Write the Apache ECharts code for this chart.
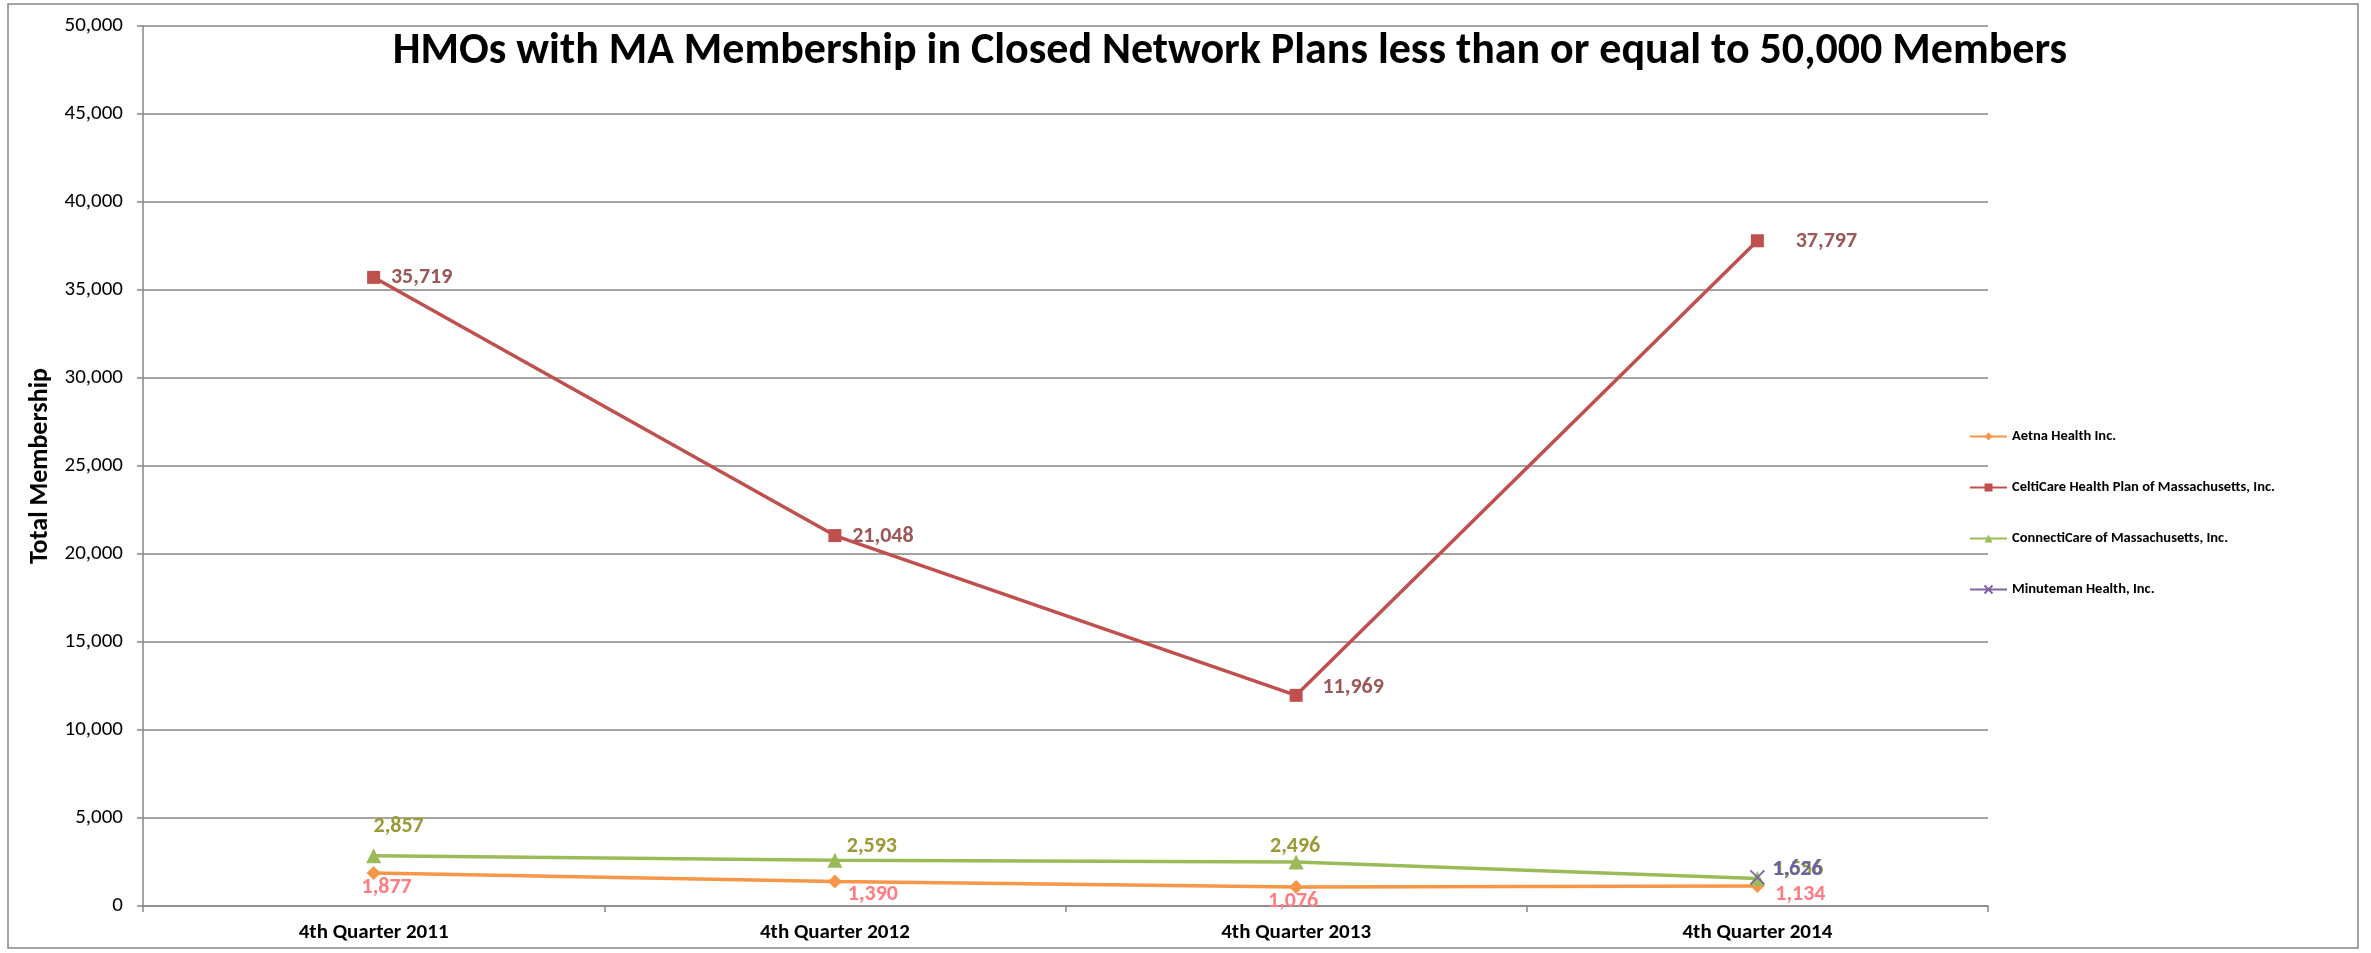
<!DOCTYPE html>
<html>
<head>
<meta charset="utf-8">
<script src="https://cdn.jsdelivr.net/npm/echarts@6/dist/echarts.min.js"></script>
<style>
html,body{margin:0;padding:0;background:#fff;}
#chart{width:2371px;height:953px;}
</style>
</head>
<body>
<div id="chart"></div>
<script>
const categories = ['4th Quarter 2011', '4th Quarter 2012', '4th Quarter 2013', '4th Quarter 2014'];
const seriesNames = ['Aetna Health Inc.', 'CeltiCare Health Plan of Massachusetts, Inc.', 'ConnectiCare of Massachusetts, Inc.', 'Minuteman Health, Inc.'];
const aetna = [1877, 1390, 1076, 1134];
const celticare = [35719, 21048, 11969, 37797];
const connecticare = [2857, 2593, 2496, 1556];
const minuteman = [null, null, null, 1626];
const yTicks = {min: 0, max: 50000, interval: 5000};

const FONT = 'Carlito, Calibri, "Liberation Sans", Arial, sans-serif';
const fmt = v => Number(v).toLocaleString('en-US');

// label center offsets relative to each marker (layout only)
const labelOffsets = [
  [[13, 15], [38, 13], [-3, 14], [43, 8]],
  [[48, 0], [48, 1], [57, -8], [69, 1]],
  [[25, -29], [37, -14], [-1, -16], [41, -9]],
  [null, null, null, [40, -8]]
];
const labelColors = ['#FF7C80', '#9C5757', '#9A9A36', '#6A62A4'];

function buildData(values, si) {
  return values.map((v, i) => {
    if (v === null) return null;
    const off = labelOffsets[si][i] || [0, 0];
    return {value: v, label: {show: true, position: 'inside', offset: off}};
  });
}

const lineColors = ['#F79646', '#C0504D', '#9BBB59', '#8064A2'];
const symbols = ['diamond', 'rect', 'triangle', 'path://M0,0L10,10M10,0L0,10'];
const symbolSizes = [14, 13, 15, 14];
const allValues = [aetna, celticare, connecticare, minuteman];

const series = allValues.map((vals, si) => ({
  name: seriesNames[si],
  type: 'line',
  data: buildData(vals, si),
  symbol: symbols[si],
  symbolSize: symbolSizes[si],
  showAllSymbol: true,
  lineStyle: {width: 3.5, color: lineColors[si]},
  itemStyle: si === 3
    ? {color: 'transparent', borderColor: lineColors[si], borderWidth: 1.8}
    : {color: lineColors[si], borderWidth: 0},
  label: {
    show: true,
    color: labelColors[si],
    fontFamily: FONT,
    fontWeight: 'bold',
    fontSize: 22,
    formatter: p => fmt(p.value)
  },
  emphasis: {disabled: true},
  animation: false
}));

const chart = echarts.init(document.getElementById('chart'), null, {renderer: 'canvas'});
chart.setOption({
  backgroundColor: '#ffffff',
  animation: false,
  title: {
    text: 'HMOs with MA Membership in Closed Network Plans less than or equal to 50,000 Members',
    left: 1225,
    textAlign: 'center',
    top: 25,
    textStyle: {fontFamily: FONT, fontWeight: 'bold', fontSize: 44, color: '#000'}
  },
  graphic: [{
    type: 'rect',
    shape: {x: 8, y: 4, width: 2350, height: 944},
    style: {fill: 'none', stroke: '#868686', lineWidth: 1.5},
    silent: true, z: -1
  }],
  legend: {
    orient: 'vertical',
    left: 1964,
    top: 424,
    itemWidth: 37,
    itemHeight: 10,
    itemGap: 36,
    data: seriesNames,
    textStyle: {fontFamily: FONT, fontWeight: 'bold', fontSize: 14.5, color: '#000'}
  },
  grid: {left: 143, right: 383, top: 26, bottom: 47, containLabel: false},
  xAxis: {
    type: 'category',
    data: categories,
    boundaryGap: true,
    axisLine: {lineStyle: {color: '#868686', width: 1.5}},
    axisTick: {show: true, length: 6, lineStyle: {color: '#868686', width: 1.5}},
    axisLabel: {fontFamily: FONT, fontWeight: 'bold', fontSize: 21, color: '#000', margin: 16},
    splitLine: {show: false}
  },
  yAxis: {
    type: 'value',
    min: yTicks.min, max: yTicks.max, interval: yTicks.interval,
    name: 'Total Membership',
    nameLocation: 'middle',
    nameGap: 76,
    nameRotate: 90,
    nameTextStyle: {fontFamily: FONT, fontWeight: 'bold', fontSize: 26, color: '#000'},
    axisLine: {show: true, lineStyle: {color: '#868686', width: 1.5}},
    axisTick: {show: true, length: 6, lineStyle: {color: '#868686', width: 1.5}},
    axisLabel: {fontFamily: FONT, fontSize: 21, color: '#000', margin: 20, formatter: v => fmt(v)},
    splitLine: {show: true, lineStyle: {color: '#868686', width: 1.5}}
  },
  series: series
});
</script>
</body>
</html>
